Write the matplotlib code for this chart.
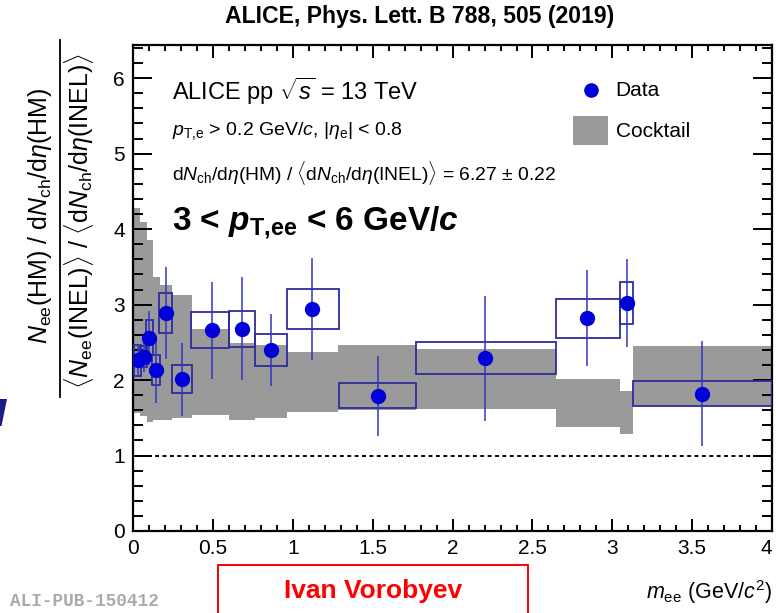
import numpy as np
import matplotlib
matplotlib.use('Agg')
import matplotlib.pyplot as plt
from matplotlib.patches import Rectangle, Polygon
from matplotlib.lines import Line2D
from matplotlib.ticker import MultipleLocator, FuncFormatter

# fonts: Helvetica-like text and math
plt.rcParams['font.family'] = ['Liberation Sans', 'DejaVu Sans']
plt.rcParams['mathtext.fontset'] = 'custom'
plt.rcParams['mathtext.rm'] = 'Liberation Sans'
plt.rcParams['mathtext.it'] = 'Liberation Sans:italic'
plt.rcParams['mathtext.bf'] = 'Liberation Sans:bold'
plt.rcParams['mathtext.bfit'] = 'Liberation Sans:italic:bold'

# data points: mass, ratio, stat. error, syst. error
m_ee = [0.03, 0.065, 0.10, 0.145, 0.205, 0.305, 0.49, 0.68, 0.86, 1.12, 1.53, 2.20, 2.84, 3.09, 3.56]
ratio = [2.26, 2.31, 2.56, 2.13, 2.89, 2.01, 2.66, 2.68, 2.40, 2.94, 1.79, 2.29, 2.82, 3.02, 1.82]
stat_err = [0.20, 0.20, 0.36, 0.43, 0.61, 0.48, 0.64, 0.68, 0.48, 0.68, 0.53, 0.83, 0.64, 0.58, 0.70]
syst_err = [0.20, 0.14, 0.23, 0.20, 0.265, 0.185, 0.24, 0.24, 0.215, 0.265, 0.165, 0.21, 0.26, 0.275, 0.165]
box_lo = [0.006, 0.042, 0.080, 0.120, 0.163, 0.240, 0.361, 0.600, 0.762, 0.964, 1.286, 1.768, 2.650, 3.050, 3.130]
box_hi = [0.048, 0.084, 0.125, 0.167, 0.244, 0.366, 0.600, 0.762, 0.964, 1.286, 1.768, 2.650, 3.050, 3.130, 4.000]

# cocktail band (step histogram with upper/lower edge)
cocktail_edges = [0, 0.045, 0.083, 0.122, 0.165, 0.245, 0.365, 0.60, 0.76, 0.96, 1.28, 1.77, 2.65, 3.05, 3.13, 4.0]
cocktail_hi = [4.28, 4.10, 3.85, 3.37, 3.26, 3.13, 2.68, 2.49, 2.46, 2.37, 2.46, 2.41, 2.01, 1.85, 2.45]
cocktail_lo = [1.56, 1.52, 1.45, 1.47, 1.47, 1.50, 1.54, 1.47, 1.50, 1.58, 1.60, 1.62, 1.38, 1.28, 1.66]

W, H = 776, 613
fig = plt.figure(figsize=(W / 100, H / 100), dpi=100)


def fx(px):
    return px / W


def fy(py):
    return 1 - py / H


ax = fig.add_axes([fx(133.3), fy(531), fx(772) - fx(133.3), fy(45) - fy(531)])
ax.set_xlim(0, 4)
ax.set_ylim(0, 6.44)

band_col = '#9a9a9a'
pt_col = '#0000d8'
err_col = '#3434c4'
box_col = '#2c2c9c'

ax.stairs(cocktail_hi, cocktail_edges, baseline=cocktail_lo, fill=True,
          color=band_col, linewidth=0, zorder=1)
ax.axhline(1, color='black', linestyle=(0, (2.0, 1.8)), linewidth=1.4, zorder=2)

for xl, xh, yc, s in zip(box_lo, box_hi, ratio, syst_err):
    ax.add_patch(Rectangle((xl, yc - s), xh - xl, 2 * s, facecolor='none',
                           edgecolor=box_col, linewidth=1.3, zorder=3))

ax.errorbar(m_ee, ratio, yerr=stat_err, fmt='none', ecolor=err_col,
            elinewidth=1.1, capsize=0, zorder=4)
ax.plot(m_ee, ratio, 'o', color=pt_col, markersize=10, zorder=5)

# axes styling
for sp in ax.spines.values():
    sp.set_linewidth(1.6)
ax.xaxis.set_major_locator(MultipleLocator(0.5))
ax.xaxis.set_minor_locator(MultipleLocator(0.1))
ax.yaxis.set_major_locator(MultipleLocator(1))
ax.yaxis.set_minor_locator(MultipleLocator(0.2))
ax.xaxis.set_major_formatter(FuncFormatter(lambda v, p: '%g' % v))
ax.tick_params(which='both', direction='in', top=True, right=True, width=1.4,
               labelsize=15)
ax.tick_params(axis='x', which='major', length=9, pad=6)
ax.tick_params(axis='x', which='minor', length=4.5)
ax.tick_params(axis='y', which='major', length=14, pad=6)
ax.tick_params(axis='y', which='minor', length=7)
fig.canvas.draw()
# last x label sits on the frame edge, keep it inside the canvas
for t in ax.xaxis.get_major_ticks():
    if abs(t.get_loc() - 4) < 1e-6:
        t.label1.set_horizontalalignment('right')
        t.label1.set_x(3.995)

# legend
ax.plot([2.866], [5.84], 'o', color=pt_col, markersize=9.5, clip_on=False)
ax.add_patch(Rectangle((2.751, 5.11), 0.223, 0.39, facecolor=band_col, edgecolor='none'))
ax.text(3.02, 5.84, 'Data', fontsize=15, va='center', ha='left')
ax.text(3.02, 5.30, 'Cocktail', fontsize=15, va='center', ha='left')

# labels inside the frame
ax.text(0.242, 5.83, r'ALICE pp $\sqrt{s}$ = 13 TeV', fontsize=17, va='center')
ax.text(0.242, 5.30, r'$p_{\rm T{,}e}$ > 0.2 GeV/$c$, |$\eta_{\rm e}$| < 0.8', fontsize=14, va='center')
ax.text(0.242, 4.74,
        r'd$N_{\rm ch}$/d$\eta$(HM) / $\langle$d$N_{\rm ch}$/d$\eta$(INEL)$\rangle$ = 6.27 $\pm$ 0.22',
        fontsize=13.9, va='center')
ax.text(0.242, 4.09, r'3 < $\boldsymbol{p}_{\mathbf{T{,}ee}}$ < 6 GeV/$\boldsymbol{c}$',
        fontsize=24, fontweight='bold', va='center')

# title
fig.text(fx(420), fy(17), 'ALICE, Phys. Lett. B 788, 505 (2019)', fontsize=16.6,
         fontweight='bold', ha='center', va='center')

# y axis label as a fraction
fig.text(fx(40), fy(216), r'$N_{\rm ee}$(HM) / d$N_{\rm ch}$/d$\eta$(HM)', fontsize=18,
         rotation=90, ha='center', va='center')
fig.text(fx(79), fy(221),
         r'$\langle N_{\rm ee}$(INEL)$\rangle$ / $\langle$d$N_{\rm ch}$/d$\eta$(INEL)$\rangle$',
         fontsize=18, rotation=90, ha='center', va='center')
fig.add_artist(Line2D([fx(60), fx(60)], [fy(40), fy(397)], color='black', linewidth=1.3))

# x axis label
fig.text(fx(772), fy(592), r'$m_{\rm ee}$ (GeV/$c^{2}$)', fontsize=15.5, ha='right', va='center')

# publication id
fig.text(fx(10), fy(601), 'ALI-PUB-150412', family='Liberation Mono', fontsize=12.8,
         color='#aaaaaa', fontweight='bold', ha='left', va='center')

# speaker box
fig.add_artist(Rectangle((fx(218), fy(614)), fx(528) - fx(218), fy(565) - fy(614),
                         facecolor='white', edgecolor='#ff0000', linewidth=1.4,
                         transform=fig.transFigure))
fig.text(fx(373), fy(591), 'Ivan Vorobyev', fontsize=19, fontweight='bold',
         color='#ff0000', ha='center', va='center')

# slide decoration at the left edge
fig.add_artist(Polygon([(fx(0), fy(399)), (fx(7), fy(399)), (fx(1.5), fy(426)), (fx(0), fy(426))],
                       closed=True, facecolor='#1c1c86', edgecolor='none',
                       transform=fig.transFigure))

fig.savefig('out.png', dpi=100)
